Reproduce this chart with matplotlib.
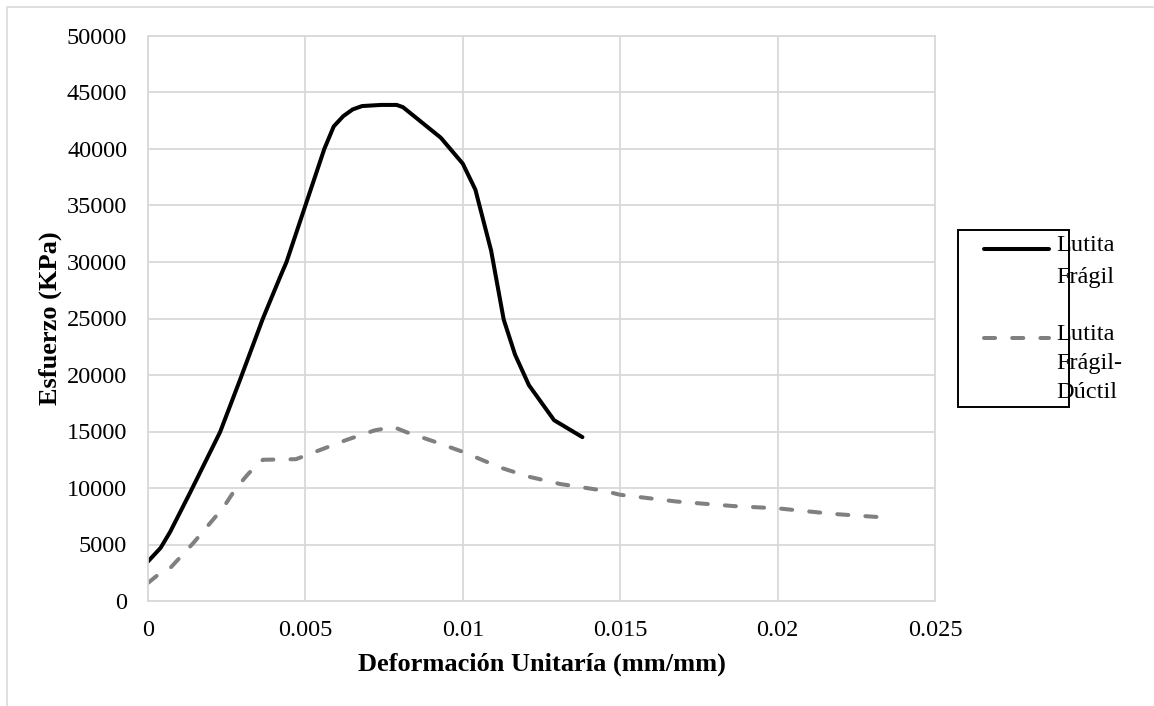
import matplotlib
matplotlib.use('Agg')
import matplotlib.pyplot as plt
from matplotlib.lines import Line2D
from matplotlib.patches import Rectangle

# datos
deform_fragil = [0.0, 0.0004, 0.0007, 0.00133, 0.00229, 0.00292, 0.00365, 0.0042, 0.0044,
                 0.005, 0.0056, 0.0059, 0.0062, 0.0065, 0.0068, 0.0074, 0.0079, 0.0081, 0.0093,
                 0.01, 0.0104, 0.0109, 0.0113, 0.01166, 0.0121, 0.0129, 0.0138]
esfuerzo_fragil = [3500, 4700, 6100, 9550, 14950, 19550, 25000, 28700, 30000,
                   35000, 40000, 42000, 42900, 43500, 43800, 43900, 43900, 43700, 41000,
                   38700, 36400, 31000, 24900, 21800, 19100, 16000, 14500]

deform_ductil = [0.0, 0.0004, 0.0007, 0.00143, 0.0024, 0.0028, 0.0032, 0.00365, 0.0047,
                 0.0055, 0.0063, 0.0072, 0.0078, 0.0082, 0.0091, 0.01, 0.0112, 0.0121,
                 0.0131, 0.0144, 0.015, 0.0168, 0.0186, 0.02, 0.0218, 0.0236]
esfuerzo_ductil = [1600, 2500, 2900, 5100, 8300, 10000, 11300, 12500, 12550,
                   13400, 14250, 15100, 15400, 14950, 14100, 13200, 11800, 11000,
                   10350, 9800, 9400, 8800, 8400, 8200, 7700, 7350]

xticks = [0, 0.005, 0.01, 0.015, 0.02, 0.025]
xtick_labels = ['0', '0.005', '0.01', '0.015', '0.02', '0.025']
yticks = list(range(0, 50001, 5000))
nombres = ['Lutita\nFrágil', 'Lutita\nFrágil-\nDúctil']

plt.rcParams['font.family'] = ['Liberation Serif', 'DejaVu Serif']

W, H = 1154, 706
fig = plt.figure(figsize=(W / 100, H / 100), dpi=100)


def fx(px):
    return px / W


def fy(py):
    return 1 - py / H


# borde del área del gráfico (recortado)
fig.add_artist(Rectangle((fx(7), fy(720)), fx(1200), fy(7) - fy(720), transform=fig.transFigure,
                         fill=False, edgecolor='#d9d9d9', linewidth=1.2))

ax = fig.add_axes([fx(148), fy(601), fx(935) - fx(148), fy(36) - fy(601)])
gris = '#d9d9d9'
ax.plot(deform_fragil, esfuerzo_fragil, color='black', linewidth=2.9, solid_capstyle='round',
        solid_joinstyle='round')
ax.plot(deform_ductil, esfuerzo_ductil, color='#808080', linewidth=2.9, dashes=(2.75, 4.25),
        dash_capstyle='round')

ax.set_xlim(0, 0.025)
ax.set_ylim(0, 50000)
ax.set_xticks(xticks)
ax.set_xticklabels(xtick_labels)
ax.set_yticks(yticks)
ax.grid(True, color=gris, linewidth=1.3)
ax.set_axisbelow(True)
for s in ax.spines.values():
    s.set_color(gris)
    s.set_linewidth(1.3)
ax.tick_params(length=0, labelsize=17.5, pad=14)
ax.tick_params(axis='y', pad=15)

ax.set_xlabel('Deformación Unitaría (mm/mm)', fontsize=19, fontweight='bold', labelpad=8)
ax.set_ylabel('Esfuerzo (KPa)', fontsize=19, fontweight='bold', labelpad=3)

# leyenda a mano
fig.add_artist(Rectangle((fx(958), fy(407)), fx(1069) - fx(958), fy(230) - fy(407),
                         transform=fig.transFigure, fill=False, edgecolor='black', linewidth=1.4))
fig.add_artist(Line2D([fx(984), fx(1049)], [fy(249), fy(249)], transform=fig.transFigure,
                      color='black', linewidth=2.9, solid_capstyle='round'))
fig.add_artist(Line2D([fx(984), fx(1049)], [fy(338), fy(338)], transform=fig.transFigure,
                      color='#808080', linewidth=2.9, dashes=(2.75, 4.25), dash_capstyle='round'))
fig.text(fx(1056), fy(235), nombres[0], fontsize=17.5, va='top', ha='left', linespacing=1.7)
fig.text(fx(1056), fy(324), nombres[1], fontsize=17.5, va='top', ha='left', linespacing=1.5)

fig.savefig('out.png', dpi=100)
